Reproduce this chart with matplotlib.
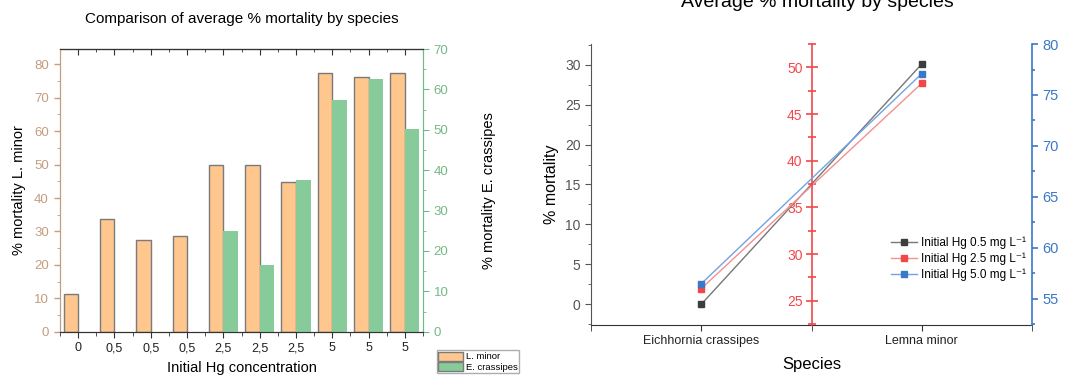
import matplotlib.pyplot as plt
import numpy as np
from matplotlib.ticker import MultipleLocator, FixedLocator
from matplotlib.patches import Patch

plt.rcParams['font.family'] = ['Liberation Sans', 'DejaVu Sans']

# left chart data
conc_labels = ['0', '0,5', '0,5', '0,5', '2,5', '2,5', '2,5', '5', '5', '5']
l_minor = [11.2, 33.7, 27.4, 28.7, 50.0, 50.0, 44.9, 77.3, 76.1, 77.3]
e_crassipes = [0, 0, 0, 0, 24.9, 16.6, 37.6, 57.3, 62.6, 50.1]

# right chart data
species = ['Eichhornia crassipes', 'Lemna minor']
hg_05 = [0.0, 30.1]
hg_25 = [26.3, 48.3]
hg_50 = [56.5, 77.1]

orange = '#FFC68E'
green = '#86CB99'
tan = '#C49C80'
green_ax = '#74B886'
red = '#F0484A'
blue = '#3A78C8'

fig = plt.figure(figsize=(10.76, 3.79), dpi=100)

# ---------------- left chart ----------------
ax = fig.add_axes([0.0558, 0.1248, 0.3374, 0.7459])
axr = ax.twinx()
x = np.arange(len(conc_labels))
w = 0.4
ax.bar(x - w, l_minor, width=w, align='edge', color=orange,
       edgecolor='#7a7a7a', linewidth=1, zorder=2)
axr.bar(x, e_crassipes, width=w, align='edge', color=green,
        edgecolor='none', linewidth=0, zorder=2)
ax.set_xlim(-0.5, 9.5)
ax.set_ylim(0, 84.6)
axr.set_ylim(0, 70)
ax.set_xticks(x)
ax.set_xticklabels(conc_labels, fontsize=9)
ax.xaxis.set_minor_locator(MultipleLocator(0.5))
ax.yaxis.set_major_locator(MultipleLocator(10))
ax.yaxis.set_minor_locator(MultipleLocator(5))
axr.yaxis.set_major_locator(MultipleLocator(10))
axr.yaxis.set_minor_locator(MultipleLocator(5))
ax.tick_params(axis='y', colors=tan, labelsize=9.5, length=4, width=1, pad=4)
ax.tick_params(axis='y', which='minor', colors=tan, length=2.5)
ax.tick_params(axis='x', colors='#333333', labelsize=9, length=4, labelcolor='#222222')
ax.tick_params(axis='x', which='minor', length=3, colors='#333333')
axr.tick_params(axis='y', colors=green_ax, labelsize=9.5, length=4)
axr.tick_params(axis='y', which='minor', colors=green_ax, length=2.5)
for a in (ax, axr):
    a.spines['left'].set_color(tan)
    a.spines['right'].set_color(green_ax)
    a.spines['top'].set_color('#333333')
    a.spines['bottom'].set_color('#333333')
top = ax.secondary_xaxis('top')
top.set_xticks(x)
top.xaxis.set_minor_locator(MultipleLocator(0.5))
top.tick_params(direction='in', labeltop=False, length=4, colors='#333333')
top.tick_params(which='minor', direction='in', length=2.5, colors='#333333')
ax.set_ylabel('% mortality L. minor', fontsize=10.5, labelpad=6)
axr.set_ylabel('% mortality E. crassipes', fontsize=10.5, labelpad=24)
ax.set_xlabel('Initial Hg concentration', fontsize=10.5, labelpad=5)
ax.set_title('Comparison of average % mortality by species', fontsize=11, pad=19)
leg = fig.legend(handles=[Patch(facecolor=orange, edgecolor='#7a7a7a', label='L. minor'),
                          Patch(facecolor=green, edgecolor='#7a7a7a', label='E. crassipes')],
                 loc='lower left', bbox_to_anchor=(0.406, 0.016), fontsize=6.8,
                 frameon=True, fancybox=False, edgecolor='#999999', borderpad=0.15,
                 handlelength=2.6, handleheight=1.05, labelspacing=0.05,
                 handletextpad=0.3, borderaxespad=0)
leg.get_frame().set_linewidth(1)

# ---------------- right chart ----------------
bx = fig.add_axes([0.5493, 0.1425, 0.4099, 0.7414])
bred = bx.twinx()
bblue = bx.twinx()
xs = np.arange(len(species))
l1, = bx.plot(xs, hg_05, color='#777777', lw=1, marker='s', ms=5,
              mfc='#3d3d3d', mec='#3d3d3d', label='Initial Hg 0.5 mg L⁻¹')
l2, = bred.plot(xs, hg_25, color='#F49090', lw=1, marker='s', ms=5,
                mfc=red, mec=red, label='Initial Hg 2.5 mg L⁻¹')
l3, = bblue.plot(xs, hg_50, color='#6FA4E4', lw=1, marker='s', ms=5,
                 mfc=blue, mec=blue, label='Initial Hg 5.0 mg L⁻¹')
bx.set_xlim(-0.5, 1.5)
bx.set_ylim(-2.6, 32.6)
bred.set_ylim(22.4, 52.5)
bblue.set_ylim(52.45, 80)

bx.set_xticks(xs)
bx.set_xticklabels(species, fontsize=9)
bx.xaxis.set_minor_locator(FixedLocator([-0.5, 0.5, 1.5]))
bx.tick_params(axis='x', which='both', length=4, colors='#333333', labelcolor='#222222')
bx.yaxis.set_major_locator(MultipleLocator(5))
bx.yaxis.set_minor_locator(MultipleLocator(2.5))
bx.tick_params(axis='y', length=4, colors='#555555', labelsize=10)
bx.tick_params(axis='y', which='minor', length=2.5, colors='#555555')
bx.spines['top'].set_visible(False)
bx.spines['right'].set_visible(False)
bx.spines['left'].set_color('#555555')
bx.spines['bottom'].set_color('#333333')
bx.set_ylabel('% mortality', fontsize=11.5, labelpad=4)
bx.set_xlabel('Species', fontsize=12, labelpad=7)

for s in ('top', 'right', 'bottom'):
    bred.spines[s].set_visible(False)
bred.spines['left'].set_visible(True)
bred.spines['left'].set_position(('axes', 0.5))
bred.spines['left'].set_color(red)
bred.spines['left'].set_linewidth(1.2)
bred.yaxis.set_ticks_position('left')
bred.yaxis.set_label_position('left')
bred.yaxis.set_major_locator(MultipleLocator(5))
bred.yaxis.set_minor_locator(MultipleLocator(2.5))
bred.tick_params(axis='y', direction='inout', length=9, width=1.2, colors=red, labelsize=10, pad=2)
bred.tick_params(axis='y', which='minor', direction='inout', length=6, width=1.2, colors=red)

for s in ('top', 'left', 'bottom'):
    bblue.spines[s].set_visible(False)
bblue.spines['right'].set_color(blue)
bblue.spines['right'].set_linewidth(1.2)
bblue.yaxis.set_major_locator(MultipleLocator(5))
bblue.yaxis.set_minor_locator(MultipleLocator(2.5))
bblue.tick_params(axis='y', length=4, width=1.2, colors=blue, labelsize=10.5)
bblue.tick_params(axis='y', which='minor', length=2.5, width=1.2, colors=blue)

bblue.legend(handles=[l1, l2, l3], loc='lower left', bbox_to_anchor=(0.67, 0.14),
             frameon=False, fontsize=8.5, handlelength=2.2, labelspacing=0.3,
             handletextpad=0.3, borderaxespad=0)

fig.text(817 / 1076, 1 - 7 / 379, 'Average % mortality by species', fontsize=14,
         ha='center', va='baseline')

fig.savefig('out.png', dpi=100)
